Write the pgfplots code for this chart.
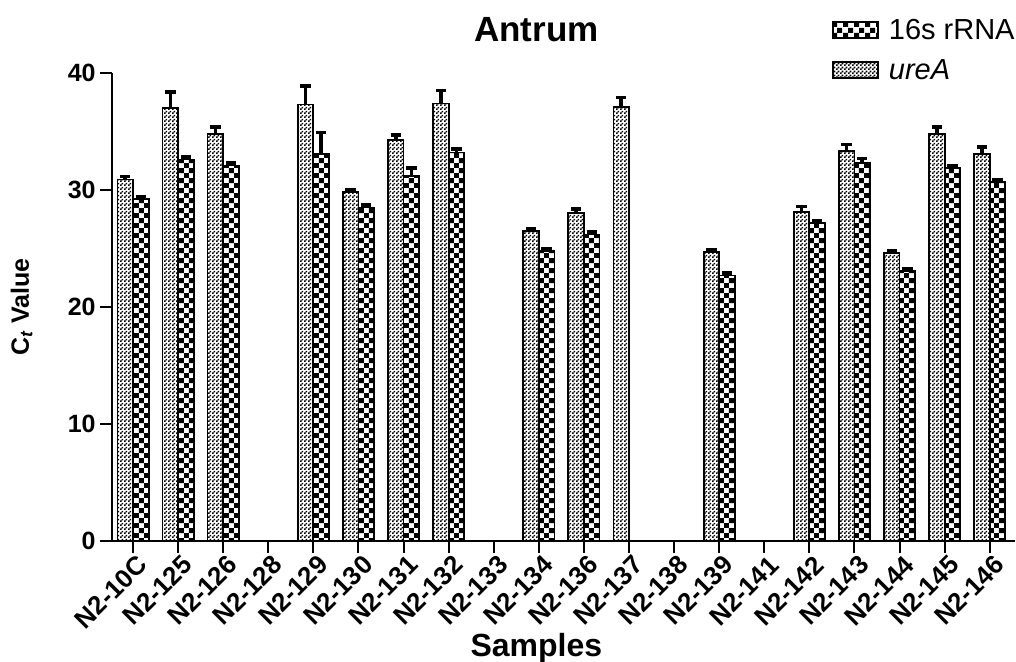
\documentclass[border=0pt]{standalone}
\usepackage{fontspec}
\setmainfont{Liberation Sans}
\usepackage{pgfplots}
\pgfplotsset{compat=1.18}
\usetikzlibrary{patterns}
\pgfdeclarepatternformonly{bigcheck}{\pgfqpoint{0pt}{0pt}}{\pgfqpoint{5.2pt}{5.2pt}}{\pgfqpoint{5.2pt}{5.2pt}}{%
  \pgfpathrectangle{\pgfqpoint{0pt}{0pt}}{\pgfqpoint{2.6pt}{2.6pt}}%
  \pgfpathrectangle{\pgfqpoint{2.6pt}{2.6pt}}{\pgfqpoint{2.6pt}{2.6pt}}%
  \pgfusepath{fill}}
\pgfdeclarepatternformonly{smallcheck}{\pgfqpoint{0pt}{0pt}}{\pgfqpoint{2pt}{2pt}}{\pgfqpoint{2pt}{2pt}}{%
  \pgfpathrectangle{\pgfqpoint{0pt}{0pt}}{\pgfqpoint{1pt}{1pt}}%
  \pgfpathrectangle{\pgfqpoint{1pt}{1pt}}{\pgfqpoint{1pt}{1pt}}%
  \pgfusepath{fill}}
\begin{document}
\begin{tikzpicture}
\begin{axis}[
  scale only axis,
  width=451.5pt, height=234pt,
  xmin=-0.466, xmax=19.56,
  ymin=0, ymax=40,
  axis lines*=left,
  axis line style={line width=1pt},
  ybar=0pt, bar width=7.8pt,
  xtick={0,...,19},
  xticklabels={N2-10C,N2-125,N2-126,N2-128,N2-129,N2-130,N2-131,N2-132,N2-133,N2-134,N2-136,N2-137,N2-138,N2-139,N2-141,N2-142,N2-143,N2-144,N2-145,N2-146},
  ytick={0,10,20,30,40},
  tick align=outside,
  major tick length=6pt,
  tick style={line width=1pt, black},
  /pgf/number format/assume math mode=true,
  yticklabel style={font=\fontsize{12.5}{14}\selectfont\bfseries, inner sep=2pt},
  xticklabel style={font=\fontsize{13}{15}\selectfont\bfseries, rotate=45, anchor=east, inner sep=1pt, xshift=2pt, yshift=-6pt},
  title={\textbf{Antrum}},
  title style={font=\fontsize{17.5}{20}\selectfont, at={(axis description cs:0.47,1.068)}, anchor=center},
  xlabel={\textbf{Samples}},
  xlabel style={font=\fontsize{16}{18}\selectfont, at={(axis description cs:0.47,-0.23)}, anchor=center},
  ylabel={\textbf{C\textsubscript{\textit{t}} Value}},
  ylabel style={font=\fontsize{12.5}{14}\selectfont, at={(axis description cs:-0.1,0.5)}, anchor=center},
  reverse legend,
  legend cell align=left,
  legend style={at={(axis description cs:0.797,1.124)}, anchor=north west, draw=none, fill=none,
    font=\fontsize{14.5}{16}\selectfont, row sep=4.5pt, inner sep=0pt, column sep=3pt},
  legend image code/.code={\draw[#1, line width=0.9pt] (0pt,-3.5pt) rectangle (22.5pt,4.5pt);},
  error bars/y dir=plus,
  error bars/y explicit,
  error bars/error bar style={line width=1.8pt, black},
  error bars/error mark options={rotate=90, mark size=2.6pt, line width=1.8pt, black},
]
\coordinate (bl) at (rel axis cs:0,0);
\coordinate (tr) at (rel axis cs:1,1);
\addplot[draw=black, line width=0.9pt, pattern=smallcheck] coordinates {
(0,30.9) +- (0,0.25)
(1,37.0) +- (0,1.4)
(2,34.8) +- (0,0.6)
(4,37.3) +- (0,1.6)
(5,29.8) +- (0,0.2)
(6,34.3) +- (0,0.4)
(7,37.4) +- (0,1.1)
(9,26.5) +- (0,0.2)
(10,28.0) +- (0,0.4)
(11,37.1) +- (0,0.8)
(13,24.7) +- (0,0.2)
(15,28.1) +- (0,0.5)
(16,33.3) +- (0,0.6)
(17,24.6) +- (0,0.2)
(18,34.8) +- (0,0.6)
(19,33.1) +- (0,0.6)
};
\addlegendentry{\textit{ureA}}
\addplot[draw=black, line width=0.9pt, pattern=bigcheck] coordinates {
(0,29.2) +- (0,0.2)
(1,32.6) +- (0,0.2)
(2,32.1) +- (0,0.2)
(4,33.1) +- (0,1.8)
(5,28.5) +- (0,0.2)
(6,31.2) +- (0,0.7)
(7,33.2) +- (0,0.3)
(9,24.8) +- (0,0.2)
(10,26.2) +- (0,0.2)
(13,22.7) +- (0,0.2)
(15,27.2) +- (0,0.2)
(16,32.3) +- (0,0.4)
(17,23.1) +- (0,0.2)
(18,31.9) +- (0,0.2)
(19,30.7) +- (0,0.2)
};
\addlegendentry{16s rRNA}
\end{axis}
\pgfresetboundingbox
\path[use as bounding box] ([shift={(-56pt,-60.5pt)}]bl) rectangle ([shift={(0.5pt,36.5pt)}]tr);
\end{tikzpicture}
\end{document}
